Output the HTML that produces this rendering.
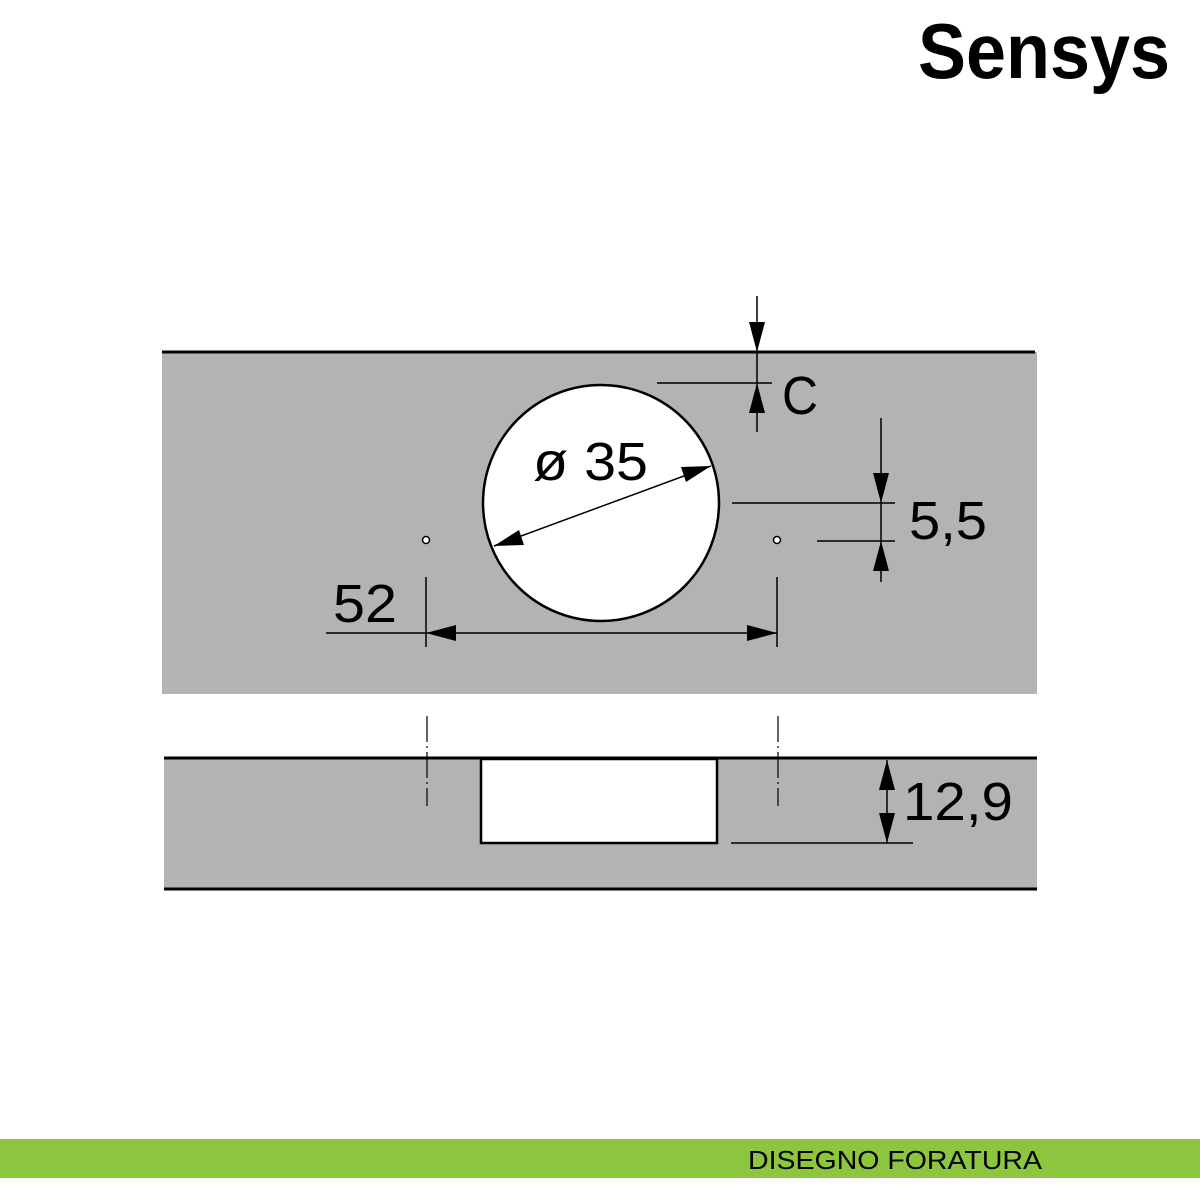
<!DOCTYPE html>
<html><head><style>html,body{margin:0;padding:0;background:#fff}svg{display:block}</style></head>
<body>
<svg width="1200" height="1200" viewBox="0 0 1200 1200" xmlns="http://www.w3.org/2000/svg" font-family="Liberation Sans, sans-serif">
<defs>
<marker id="a" viewBox="0 0 10 10" refX="10" refY="5" markerWidth="10" markerHeight="10" markerUnits="userSpaceOnUse" orient="auto-start-reverse">
</marker>
</defs>
<text x="918" y="78" font-size="78" font-weight="bold" textLength="252" lengthAdjust="spacingAndGlyphs">Sensys</text>
<!-- top panel -->
<rect x="162" y="352" width="875" height="342" fill="#b3b3b3"/>
<line x1="162" y1="352" x2="1035" y2="352" stroke="#000" stroke-width="3"/>
<circle cx="601" cy="503" r="118" fill="#fff" stroke="#000" stroke-width="2.5"/>
<circle cx="426" cy="540" r="3.5" fill="#fff" stroke="#000" stroke-width="1.5"/>
<circle cx="777" cy="540" r="3.5" fill="#fff" stroke="#000" stroke-width="1.5"/>
<g stroke="#000" stroke-width="1.5">
<line x1="757" y1="296" x2="757" y2="432"/>
<line x1="657" y1="383" x2="772" y2="383"/>
<line x1="881" y1="418" x2="881" y2="582"/>
<line x1="732" y1="503" x2="895" y2="503"/>
<line x1="817" y1="541" x2="895" y2="541"/>
<line x1="426" y1="577" x2="426" y2="647"/>
<line x1="777" y1="577" x2="777" y2="647"/>
<line x1="326" y1="633" x2="777" y2="633"/>
<line x1="494" y1="546" x2="711" y2="466"/>
</g>
<g fill="#000">
<polygon points="757,352 749,322 765,322"/>
<polygon points="757,383 749,413 765,413"/>
<polygon points="881,503 873,473 889,473"/>
<polygon points="881,541 873,571 889,571"/>
<polygon points="426,633 456,625 456,641"/>
<polygon points="777,633 747,625 747,641"/>
<polygon points="494,546 519,530 524,545"/>
<polygon points="711,466 686,482 681,467"/>
</g>
<text x="782" y="414" font-size="54" textLength="36" lengthAdjust="spacingAndGlyphs">C</text>
<text x="909" y="539" font-size="54" textLength="78" lengthAdjust="spacingAndGlyphs">5,5</text>
<text x="333" y="622" font-size="54" textLength="64" lengthAdjust="spacingAndGlyphs">52</text>
<text x="533" y="480" font-size="54" textLength="115" lengthAdjust="spacingAndGlyphs">ø 35</text>
<!-- bottom panel -->
<rect x="164" y="758" width="873" height="131" fill="#b3b3b3"/>
<line x1="164" y1="758" x2="1037" y2="758" stroke="#000" stroke-width="3"/>
<line x1="164" y1="889" x2="1037" y2="889" stroke="#000" stroke-width="3"/>
<rect x="481" y="759" width="236" height="84" fill="#fff" stroke="#000" stroke-width="2.5"/>
<g stroke="#000" stroke-width="1.2" stroke-dasharray="26,4,2,4">
<line x1="427" y1="716" x2="427" y2="806"/>
<line x1="778" y1="716" x2="778" y2="806"/>
</g>
<line x1="887" y1="760" x2="887" y2="843" stroke="#000" stroke-width="1.5"/>
<line x1="731" y1="843" x2="913" y2="843" stroke="#000" stroke-width="1.5"/>
<polygon points="887,760 879,790 895,790" fill="#000"/>
<polygon points="887,843 879,813 895,813" fill="#000"/>
<text x="903" y="820" font-size="54" textLength="110" lengthAdjust="spacingAndGlyphs">12,9</text>
<!-- footer -->
<rect x="0" y="1139" width="1200" height="39" fill="#8cc63f"/>
<text x="748" y="1169" font-size="26" textLength="294" lengthAdjust="spacingAndGlyphs">DISEGNO FORATURA</text>
</svg>
</body></html>
